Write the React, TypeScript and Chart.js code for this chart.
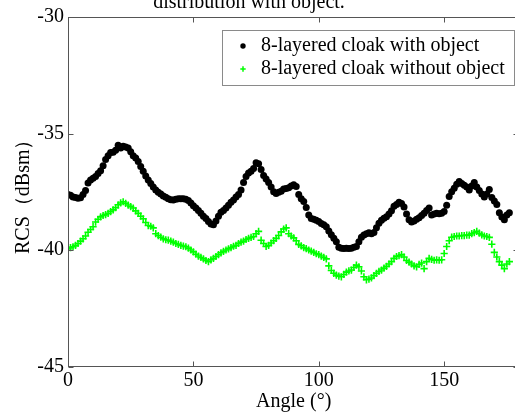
import React, { useEffect, useRef } from "react";
import { Chart, registerables } from "chart.js";

Chart.register(...registerables);

// ---- data ----
const angles = [
  0, 1, 2, 3, 4, 5, 6, 7, 8, 9, 10, 11, 12, 13, 14, 15, 16, 17, 18, 19, 20, 21, 22, 23, 24, 25, 26, 27, 28, 29,
  30, 31, 32, 33, 34, 35, 36, 37, 38, 39, 40, 41, 42, 43, 44, 45, 46, 47, 48, 49, 50, 51, 52, 53, 54, 55, 56, 57, 58, 59,
  60, 61, 62, 63, 64, 65, 66, 67, 68, 69, 70, 71, 72, 73, 74, 75, 76, 77, 78, 79, 80, 81, 82, 83, 84, 85, 86, 87, 88, 89,
  90, 91, 92, 93, 94, 95, 96, 97, 98, 99, 100, 101, 102, 103, 104, 105, 106, 107, 108, 109, 110, 111, 112, 113, 114, 115, 116, 117, 118, 119,
  120, 121, 122, 123, 124, 125, 126, 127, 128, 129, 130, 131, 132, 133, 134, 135, 136, 137, 138, 139, 140, 141, 142, 143, 144, 145, 146, 147, 148, 149,
  150, 151, 152, 153, 154, 155, 156, 157, 158, 159, 160, 161, 162, 163, 164, 165, 166, 167, 168, 169, 170, 171, 172, 173, 174, 175, 176,
];

const withObject = [
  -37.62, -37.65, -37.72, -37.75, -37.78, -37.76, -37.62, -37.45, -37.12, -37.0,
  -36.92, -36.85, -36.72, -36.6, -36.38, -36.12, -35.95, -35.82, -35.8, -35.72,
  -35.5, -35.62, -35.55, -35.58, -35.62, -35.78, -35.95, -36.05, -36.2, -36.42,
  -36.62, -36.82, -37.0, -37.15, -37.3, -37.42, -37.52, -37.6, -37.68, -37.74,
  -37.8, -37.84, -37.85, -37.82, -37.8, -37.8, -37.8, -37.82, -37.88, -37.98,
  -38.1, -38.2, -38.3, -38.42, -38.55, -38.65, -38.78, -38.88, -38.92, -38.75,
  -38.55, -38.38, -38.3, -38.2, -38.08, -37.95, -37.85, -37.72, -37.62, -37.42,
  -37.1, -36.85, -36.7, -36.62, -36.5, -36.25, -36.3, -36.55, -36.8, -36.95,
  -37.1, -37.3, -37.5, -37.58, -37.52, -37.48, -37.38, -37.36, -37.33, -37.25,
  -37.2, -37.28, -37.62, -37.8, -37.92, -38.18, -38.5, -38.65, -38.68, -38.72,
  -38.78, -38.86, -38.92, -39.0, -39.18, -39.35, -39.5, -39.65, -39.88, -39.92,
  -39.94, -39.92, -39.94, -39.92, -39.88, -39.85, -39.65, -39.45, -39.36, -39.3,
  -39.26, -39.3, -39.25, -39.05, -38.85, -38.72, -38.64, -38.57, -38.45, -38.32,
  -38.12, -38.05, -37.95, -38.0, -38.15, -38.45, -38.7, -38.8, -38.75, -38.68,
  -38.62, -38.52, -38.42, -38.3, -38.2, -38.5, -38.46, -38.42, -38.44, -38.42,
  -38.35, -38.08, -37.7, -37.5, -37.35, -37.18, -37.06, -37.15, -37.22, -37.3,
  -37.42, -37.25, -37.1, -37.3, -37.45, -37.6, -37.72, -37.6, -37.4, -37.75,
  -37.9, -38.05, -38.4, -38.58, -38.7, -38.5, -38.4,
];

const withoutObject = [
  -39.95, -39.9, -39.86, -39.8, -39.72, -39.62, -39.52, -39.4, -39.24, -39.12,
  -39.0, -38.8, -38.68, -38.58, -38.52, -38.48, -38.43, -38.35, -38.28, -38.18,
  -38.06, -37.98, -37.93, -38.0, -38.07, -38.14, -38.2, -38.32, -38.43, -38.55,
  -38.66, -38.82, -38.95, -38.98, -39.05, -39.3, -39.38, -39.45, -39.52, -39.56,
  -39.58, -39.62, -39.66, -39.72, -39.76, -39.8, -39.83, -39.86, -39.92, -40.0,
  -40.08, -40.18, -40.26, -40.32, -40.38, -40.45, -40.5, -40.42, -40.36, -40.28,
  -40.2, -40.12, -40.06, -40.0, -39.95, -39.9, -39.84, -39.8, -39.72, -39.66,
  -39.62, -39.55, -39.5, -39.46, -39.42, -39.3, -39.2, -39.58, -39.72, -39.85,
  -39.8, -39.7, -39.6, -39.5, -39.38, -39.22, -39.1, -39.05, -39.3, -39.4,
  -39.48, -39.6, -39.76, -39.82, -39.9, -39.94, -40.0, -40.05, -40.1, -40.16,
  -40.2, -40.26, -40.32, -40.38, -40.68, -40.88, -41.0, -41.08, -41.12, -41.15,
  -41.05, -40.95, -40.9, -40.86, -40.75, -40.65, -40.72, -40.9, -41.15, -41.28,
  -41.25, -41.2, -41.1, -41.0, -40.92, -40.86, -40.78, -40.7, -40.6, -40.5,
  -40.36, -40.28, -40.24, -40.2, -40.3, -40.45, -40.52, -40.6, -40.68, -40.72,
  -40.62, -40.56, -40.8, -40.5, -40.36, -40.4, -40.44, -40.42, -40.44, -40.42,
  -40.15, -39.85, -39.6, -39.45, -39.42, -39.4, -39.4, -39.38, -39.38, -39.36,
  -39.36, -39.3, -39.25, -39.2, -39.28, -39.35, -39.4, -39.42, -39.46, -39.75,
  -40.1, -40.3, -40.5, -40.65, -40.8, -40.6, -40.5,
];

const xTickValues = [0, 50, 100, 150];
const yTickValues = [-45, -40, -35, -30];
const xRange = [0, 180];
const yRange = [-45, -30];
const seriesLabels = ["8-layered cloak with object", "8-layered cloak without object"];
const titleText = "distribution with object.";
const xTitle = "Angle (°)";
const yTitle = "RCS（dBsm）";

const FONT = '"Liberation Serif", "Times New Roman", serif';
const BLACK = "#000000";
const GREEN = "#00ff00";

function drawMarker(ctx: CanvasRenderingContext2D, kind: string, x: number, y: number, r: number, color: string) {
  ctx.save();
  if (kind === "circle") {
    ctx.fillStyle = color;
    ctx.beginPath();
    ctx.arc(x, y, r, 0, Math.PI * 2);
    ctx.fill();
  } else {
    ctx.strokeStyle = color;
    ctx.lineWidth = 1.5;
    ctx.beginPath();
    ctx.moveTo(x - r, y);
    ctx.lineTo(x + r, y);
    ctx.moveTo(x, y - r);
    ctx.lineTo(x, y + r);
    ctx.stroke();
  }
  ctx.restore();
}

const framePlugin = {
  id: "frame",
  afterDraw(chart: any) {
    const { ctx, chartArea: a, scales } = chart;
    const xs = scales.x;
    const ys = scales.y;
    ctx.save();
    // axes box
    ctx.strokeStyle = "#555555";
    ctx.lineWidth = 1;
    const L = Math.round(a.left) + 0.5;
    const R = Math.round(a.right) - 0.5;
    const T = Math.round(a.top) + 0.5;
    const B = Math.round(a.bottom) - 0.5;
    ctx.strokeRect(L, T, R - L, B - T);
    ctx.beginPath();
    const tl = 5;
    xTickValues.forEach((v) => {
      const px = Math.round(xs.getPixelForValue(v)) + 0.5;
      ctx.moveTo(px, B);
      ctx.lineTo(px, B - tl);
      ctx.moveTo(px, T);
      ctx.lineTo(px, T + tl);
    });
    yTickValues.forEach((v) => {
      const py = Math.round(ys.getPixelForValue(v)) + 0.5;
      ctx.moveTo(L, py);
      ctx.lineTo(L + tl, py);
      ctx.moveTo(R, py);
      ctx.lineTo(R - tl, py);
    });
    ctx.stroke();

    // legend box
    const lx = a.left + 154;
    const ly = a.top + 13;
    const lw = 292;
    const lh = 55;
    ctx.fillStyle = "#ffffff";
    ctx.fillRect(lx, ly, lw, lh);
    ctx.strokeStyle = "#8a8a8a";
    ctx.strokeRect(Math.round(lx) + 0.5, Math.round(ly) + 0.5, lw, lh);
    const rows = [
      { kind: "circle", color: BLACK, r: 2.7 },
      { kind: "cross", color: GREEN, r: 2.7 },
    ];
    ctx.font = `20px ${FONT}`;
    ctx.textBaseline = "middle";
    ctx.textAlign = "left";
    rows.forEach((row, i) => {
      const cy = ly + 16 + i * 23;
      drawMarker(ctx, row.kind, lx + 21, cy, row.r, row.color);
      ctx.fillStyle = "#000000";
      ctx.fillText(seriesLabels[i], lx + 39, cy);
    });

    // title (its upper part lies outside the picture)
    ctx.font = `20px ${FONT}`;
    ctx.textAlign = "center";
    ctx.textBaseline = "alphabetic";
    ctx.fillStyle = "#000000";
    ctx.fillText(titleText, a.left + 181, 8);
    ctx.restore();
  },
};

export default function App() {
  const canvasRef = useRef<HTMLCanvasElement | null>(null);

  useEffect(() => {
    const canvas = canvasRef.current;
    if (!canvas) return;
    const chart = new Chart(canvas, {
      type: "scatter",
      data: {
        datasets: [
          {
            label: seriesLabels[0],
            data: angles.map((a, i) => ({ x: a, y: withObject[i] })),
            pointStyle: "circle",
            pointRadius: 3.5,
            pointBackgroundColor: BLACK,
            pointBorderColor: BLACK,
            pointBorderWidth: 0,
            showLine: false,
          },
          {
            label: seriesLabels[1],
            data: angles.map((a, i) => ({ x: a, y: withoutObject[i] })),
            pointStyle: "cross",
            pointRadius: 3.6,
            pointBorderColor: GREEN,
            pointBackgroundColor: GREEN,
            pointBorderWidth: 1.6,
            showLine: false,
          },
        ],
      },
      options: {
        animation: false,
        responsive: false,
        devicePixelRatio: 1,
        layout: { padding: { top: 17, left: 0, right: 0, bottom: 0 } },
        plugins: {
          legend: { display: false },
          tooltip: { enabled: false },
          title: { display: false },
        },
        scales: {
          x: {
            type: "linear",
            min: xRange[0],
            max: xRange[1],
            grid: { display: false, drawTicks: false },
            border: { display: false },
            afterBuildTicks: (s: any) => {
              s.ticks = xTickValues.map((v) => ({ value: v }));
            },
            afterFit: (s: any) => {
              s.height = 47.5;
            },
            ticks: {
              color: "#000000",
              font: { family: FONT, size: 20 },
              padding: 2,
              maxRotation: 0,
              autoSkip: false,
            },
            title: {
              display: true,
              text: xTitle,
              color: "#000000",
              font: { family: FONT, size: 20 },
              padding: { top: 0, bottom: 0 },
            },
          },
          y: {
            type: "linear",
            min: yRange[0],
            max: yRange[1],
            grid: { display: false, drawTicks: false },
            border: { display: false },
            afterBuildTicks: (s: any) => {
              s.ticks = yTickValues.map((v) => ({ value: v }));
            },
            afterFit: (s: any) => {
              s.width = 68;
            },
            ticks: {
              color: "#000000",
              font: { family: FONT, size: 20 },
              padding: 4,
              autoSkip: false,
            },
            title: {
              display: true,
              text: yTitle,
              color: "#000000",
              font: { family: FONT, size: 20 },
              padding: { top: 12, bottom: 0 },
            },
          },
        },
      },
      plugins: [framePlugin],
    });
    return () => chart.destroy();
  }, []);

  return (
    <div
      style={{
        position: "fixed",
        left: 0,
        top: 0,
        width: 515,
        height: 414,
        overflow: "hidden",
        background: "#ffffff",
      }}
    >
      <canvas ref={canvasRef} width={525} height={414} style={{ display: "block" }} />
    </div>
  );
}
